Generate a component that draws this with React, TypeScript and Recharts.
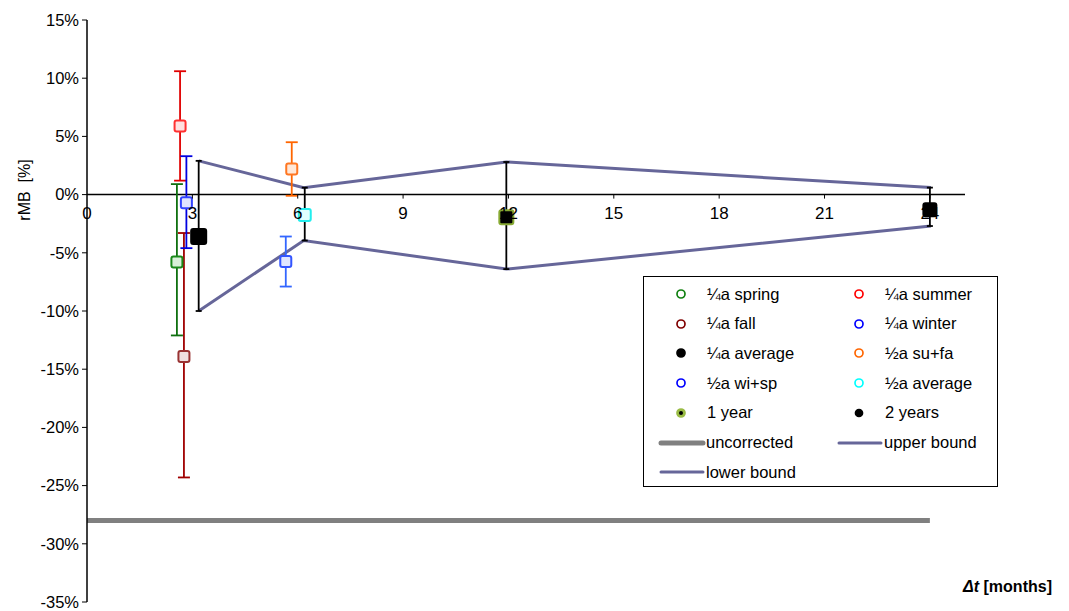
import React from 'react';
import {
  ComposedChart,
  Scatter,
  Line,
  XAxis,
  YAxis,
  ErrorBar,
  ReferenceLine,
  Legend,
} from 'recharts';

const FONT = '"Liberation Sans", Arial, Helvetica, sans-serif';

const W = 1069;
const H = 611;
const MARGIN = { top: 20, right: 104, bottom: 0, left: 0 };
const X_AXIS_H = 9;
const Y_AXIS_W = 87;
const Y_MIN = -35;
const Y_MAX = 15;
const PLOT_H = H - MARGIN.top - MARGIN.bottom - X_AXIS_H;
const ZERO_Y = MARGIN.top + (PLOT_H * Y_MAX) / (Y_MAX - Y_MIN);

const xTicks = [0, 3, 6, 9, 12, 15, 18, 21, 24];
const yTicks = [-35, -30, -25, -20, -15, -10, -5, 0, 5, 10, 15];

// x: months, y: rMB in %, err: [minus, plus]
const spring = [{ x: 2.56, y: -5.8, err: [6.3, 6.7] }];
const summer = [{ x: 2.65, y: 5.9, err: [4.7, 4.7] }];
const fall = [{ x: 2.76, y: -13.9, err: [10.4, 10.6] }];
const winter = [{ x: 2.83, y: -0.7, err: [3.9, 4.0] }];
const quarterAvg = [{ x: 3.18, y: -3.6, err: [6.4, 6.5] }];
const suFa = [{ x: 5.83, y: 2.2, err: [2.3, 2.3] }];
const wiSp = [{ x: 5.66, y: -5.75, err: [2.15, 2.15] }];
const halfAvg = [{ x: 6.2, y: -1.75, err: [2.2, 2.35] }];
const oneYear = [{ x: 11.94, y: -1.95, err: [4.45, 4.75] }];
const twoYears = [{ x: 24.0, y: -1.3, err: [1.4, 1.9] }];

const upperBound = [
  { x: 3.18, y: 2.9 },
  { x: 6.17, y: 0.6 },
  { x: 11.94, y: 2.8 },
  { x: 24.03, y: 0.6 },
];
const lowerBound = [
  { x: 3.18, y: -10.0 },
  { x: 6.17, y: -3.95 },
  { x: 11.94, y: -6.4 },
  { x: 24.03, y: -2.7 },
];
const uncorrected = [
  { x: 0, y: -28 },
  { x: 24, y: -28 },
];

type Series = {
  name: string;
  data: { x: number; y: number; err: number[] }[];
  color: string;
  fill: string;
  size: number;
  barColor: string;
  capWidth: number;
  legendColor: string;
  legendFill: string;
  legendDot?: string;
};

const series: Series[] = [
  { name: '¼a spring', data: spring, color: '#1a8a1a', fill: '#d8f0d8', size: 11, barColor: '#107010', capWidth: 6, legendColor: '#108010', legendFill: '#fff' },
  { name: '¼a summer', data: summer, color: '#ff3030', fill: '#ffe0e0', size: 11, barColor: '#e00000', capWidth: 6, legendColor: '#ff0000', legendFill: '#fff' },
  { name: '¼a fall', data: fall, color: '#993333', fill: '#f0e0e0', size: 11, barColor: '#a00000', capWidth: 6, legendColor: '#800000', legendFill: '#fff' },
  { name: '¼a winter', data: winter, color: '#3344ff', fill: '#e0e4ff', size: 11, barColor: '#0000e0', capWidth: 6, legendColor: '#0000ff', legendFill: '#fff' },
  { name: '¼a average', data: quarterAvg, color: '#000', fill: '#000', size: 15, barColor: '#000', capWidth: 3, legendColor: '#000', legendFill: '#000' },
  { name: '½a su+fa', data: suFa, color: '#ff7722', fill: '#ffe8d8', size: 11, barColor: '#ff6600', capWidth: 6, legendColor: '#ff6600', legendFill: '#fff' },
  { name: '½a wi+sp', data: wiSp, color: '#3355ff', fill: '#e0e6ff', size: 11, barColor: '#3366ff', capWidth: 6, legendColor: '#0000ff', legendFill: '#fff' },
  { name: '½a average', data: halfAvg, color: '#22eeee', fill: '#e0ffff', size: 12, barColor: '#000', capWidth: 3, legendColor: '#00ffff', legendFill: '#fff' },
  { name: '1 year', data: oneYear, color: '#88aa33', fill: '#000', size: 14, barColor: '#000', capWidth: 3, legendColor: '#99bb44', legendFill: '#99bb44', legendDot: '#000' },
  { name: '2 years', data: twoYears, color: '#000', fill: '#000', size: 13, barColor: '#000', capWidth: 3, legendColor: '#000', legendFill: '#000' },
];

const legendLines = [
  { name: 'uncorrected', color: '#808080', width: 5 },
  { name: 'upper bound', color: '#666699', width: 3 },
  { name: 'lower bound', color: '#666699', width: 3 },
];

const square = (stroke: string, fill: string, size: number) => (props: any) => {
  const { cx, cy } = props;
  if (cx == null || cy == null) return <g />;
  return (
    <rect
      x={cx - size / 2}
      y={cy - size / 2}
      width={size}
      height={size}
      rx={2}
      fill={fill}
      stroke={stroke}
      strokeWidth={2}
    />
  );
};

const XTick = (props: any) => {
  const { x, payload } = props;
  return (
    <g>
      {payload.value !== 0 && (
        <line x1={x} x2={x} y1={ZERO_Y} y2={ZERO_Y + 4} stroke="#000" />
      )}
      <text
        x={x}
        y={ZERO_Y + 24}
        textAnchor="middle"
        fontSize={17}
        fontFamily={FONT}
        fill="#000"
      >
        {payload.value}
      </text>
    </g>
  );
};

const YLabel = () => (
  <text
    x={24}
    y={190}
    transform="rotate(-90, 24, 190)"
    textAnchor="middle"
    dominantBaseline="central"
    fontSize={16}
    fontFamily={FONT}
    fill="#000"
    style={{ whiteSpace: 'pre' }}
  >
    {'rMB\u00a0\u00a0[%]'}
  </text>
);

const ROW_H = 29.7;

const LegendBox = () => {
  const rows: React.ReactNode[] = [];
  series.forEach((s, i) => {
    const col = i % 2;
    const row = Math.floor(i / 2);
    const small = s.name === '2 years';
    rows.push(
      <div
        key={s.name}
        style={{ position: 'absolute', left: col === 0 ? 0 : 178, top: 4 + row * ROW_H, height: 26, display: 'flex', alignItems: 'center' }}
      >
        <svg width={60} height={26}>
          <circle
            cx={37}
            cy={13}
            r={small ? 3.5 : 4}
            fill={s.legendFill}
            stroke={s.legendColor}
            strokeWidth={1.7}
          />
          {s.legendDot && <circle cx={37} cy={13} r={2} fill={s.legendDot} />}
        </svg>
        <span style={{ marginLeft: 3 }}>{s.name}</span>
      </div>
    );
  });
  legendLines.forEach((l, i) => {
    const col = i % 2;
    const row = 5 + Math.floor(i / 2);
    rows.push(
      <div
        key={l.name}
        style={{ position: 'absolute', left: col === 0 ? 0 : 178, top: 4 + row * ROW_H, height: 26, display: 'flex', alignItems: 'center' }}
      >
        <svg width={62} height={26}>
          <line x1={17} x2={59} y1={13} y2={13} stroke={l.color} strokeWidth={l.width} strokeLinecap="round" />
        </svg>
        <span>{l.name}</span>
      </div>
    );
  });
  return (
    <div
      style={{
        position: 'relative',
        width: 355,
        height: 211,
        boxSizing: 'border-box',
        border: '1.5px solid #000',
        background: '#fff',
        fontFamily: FONT,
        fontSize: 16.5,
        color: '#000',
      }}
    >
      {rows}
    </div>
  );
};

const App: React.FC = () => {
  return (
    <div style={{ position: 'absolute', left: 0, top: 0, width: W, height: H, background: '#fff' }}>
      <ComposedChart width={W} height={H} margin={MARGIN}>
        <XAxis
          dataKey="x"
          type="number"
          domain={[0, 25]}
          ticks={xTicks}
          interval={0}
          axisLine={false}
          tickLine={false}
          height={X_AXIS_H}
          tick={(p: any) => <XTick {...p} />}
          allowDataOverflow
        />
        <YAxis
          dataKey="y"
          type="number"
          domain={[Y_MIN, Y_MAX]}
          ticks={yTicks}
          interval={0}
          width={Y_AXIS_W}
          tickFormatter={(v: number) => `${v}%`}
          tick={{ fontSize: 16.5, fontFamily: FONT, fill: '#000' }}
          tickSize={5}
          tickMargin={3}
          axisLine={{ stroke: '#000', strokeWidth: 1.5 }}
          tickLine={{ stroke: '#000' }}
          allowDataOverflow
          label={{ content: () => <YLabel /> }}
        />
        <ReferenceLine y={0} stroke="#000" strokeWidth={1.5} />
        <Line
          data={uncorrected}
          dataKey="y"
          name="uncorrected"
          stroke="#808080"
          strokeWidth={5}
          dot={false}
          isAnimationActive={false}
        />
        <Line
          data={upperBound}
          dataKey="y"
          name="upper bound"
          stroke="#666699"
          strokeWidth={3}
          dot={false}
          isAnimationActive={false}
        />
        <Line
          data={lowerBound}
          dataKey="y"
          name="lower bound"
          stroke="#666699"
          strokeWidth={3}
          dot={false}
          isAnimationActive={false}
        />
        {series.map((s) => (
          <Scatter
            key={s.name}
            name={s.name}
            data={s.data}
            dataKey="y"
            shape={square(s.color, s.fill, s.size)}
            isAnimationActive={false}
          >
            <ErrorBar
              dataKey="err"
              direction="y"
              width={s.capWidth}
              stroke={s.barColor}
              strokeWidth={1.8}
              isAnimationActive={false}
            />
          </Scatter>
        ))}
        <Legend
          layout="horizontal"
          align="center"
          verticalAlign="middle"
          wrapperStyle={{ left: 643, top: 276, width: 355, height: 211 }}
          content={() => <LegendBox />}
        />
      </ComposedChart>
      <div
        style={{
          position: 'absolute',
          left: 963,
          top: 578,
          fontFamily: FONT,
          fontSize: 16,
          fontWeight: 'bold',
          color: '#000',
          whiteSpace: 'nowrap',
        }}
      >
        <i>Δt</i> [months]
      </div>
    </div>
  );
};

export default App;
